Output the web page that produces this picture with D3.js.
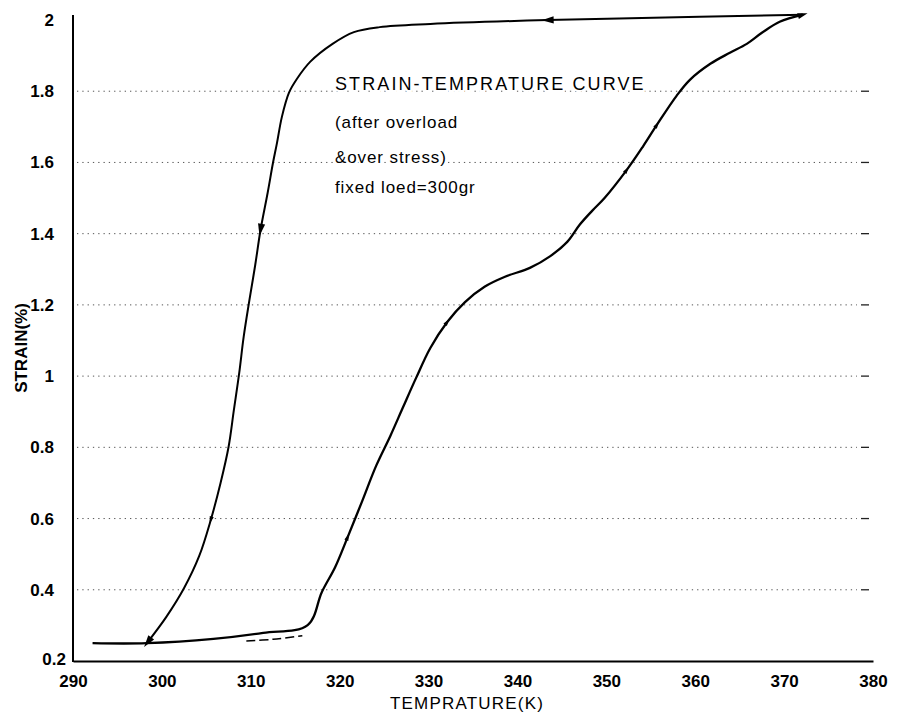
<!DOCTYPE html>
<html>
<head>
<meta charset="utf-8">
<script src="https://d3js.org/d3.v7.min.js"></script>
<style>
  body { margin: 0; background: #fff; }
  .note { font-family: "Liberation Sans", Arial, sans-serif; fill: #000; }
</style>
</head>
<body>
<div id="my_dataviz"></div>
<script>
// Chart size
const width = 898;
const height = 713;

// Heating branch (bottom -> right curve -> top right corner)
const heatTemp = [292.2, 298.3, 305.8, 311.4, 316.4, 318.0, 319.5, 320.9, 322.5, 324.1, 325.7, 327.1, 328.6, 330.2,
    332.1, 334.1, 336.3, 338.6, 341.4, 343.7, 345.6, 347.0, 348.4, 349.8, 352.3, 354.1, 355.7, 357.9, 359.4, 361.7,
    363.9, 365.8, 367.5, 369.5, 372.1];
const heatStrain = [0.25, 0.25, 0.262, 0.279, 0.301, 0.394, 0.464, 0.548, 0.647, 0.748, 0.832, 0.911, 0.995, 1.079,
    1.152, 1.208, 1.251, 1.279, 1.304, 1.337, 1.377, 1.425, 1.464, 1.50, 1.579, 1.644, 1.706, 1.787, 1.832, 1.877,
    1.908, 1.933, 1.964, 1.995, 2.015];

// Cooling branch (top right corner -> top line -> left curve)
const coolTemp = [372.1, 360.5, 343.4, 330.2, 324.5, 321.6, 319.2, 316.7, 315.2, 314.3, 313.5, 312.95, 312.5, 311.9,
    311.1, 310.5, 309.85, 309.2, 308.7, 308.1, 307.5, 306.6, 305.5, 304.2, 302.5, 300.5, 298.4];
const coolStrain = [2.015, 2.009, 2.0, 1.989, 1.98, 1.966, 1.933, 1.883, 1.835, 1.796, 1.728, 1.655, 1.599, 1.515,
    1.411, 1.312, 1.214, 1.110, 1.009, 0.905, 0.801, 0.700, 0.596, 0.495, 0.405, 0.324, 0.253];

// Faint dashed trace under the bottom of the loop
const dashTemp = [309.5, 312.5, 315.8];
const dashStrain = [0.256, 0.261, 0.271];

// Where the direction arrows sit (index into each branch)
const heatArrows = [7, 14, 24, 26, 34];
const coolArrows = [2, 14, 22, 26];

// Axis ticks
const xTicks = [290, 300, 310, 320, 330, 340, 350, 360, 370, 380];
const yTicks = [0.2, 0.4, 0.6, 0.8, 1, 1.2, 1.4, 1.6, 1.8, 2];
const gridTicks = [0.4, 0.6, 0.8, 1, 1.2, 1.4, 1.6, 1.8];

// Note text
const noteTitle = "STRAIN-TEMPRATURE CURVE";
const noteLines = ["(after overload", "&over stress)", "fixed loed=300gr"];

const svg = d3.select("#my_dataviz")
    .append("svg")
    .attr("width", width)
    .attr("height", height);

// Scales
const x = d3.scaleLinear().domain([290, 380]).range([73, 873]);
const y = d3.scaleLinear().domain([0.2, 2]).range([661, 20]);

// Dotted grid lines
svg.append("g")
    .selectAll("line")
    .data(gridTicks)
    .join("line")
    .attr("x1", x(290) + 4)
    .attr("x2", x(380) - 16)
    .attr("y1", d => y(d))
    .attr("y2", d => y(d))
    .attr("stroke", "#555")
    .attr("stroke-width", 1)
    .attr("stroke-dasharray", "1.3,4");

// Short marks at the right end of each grid line
svg.append("g")
    .selectAll("line")
    .data(gridTicks)
    .join("line")
    .attr("x1", x(380) - 12)
    .attr("x2", x(380) - 4)
    .attr("y1", d => y(d))
    .attr("y2", d => y(d))
    .attr("stroke", "#222")
    .attr("stroke-width", 1.3);

// Axes
const xAxis = svg.append("g")
    .attr("transform", `translate(0, ${y(0.2)})`)
    .call(d3.axisBottom(x).tickValues(xTicks).tickSize(0).tickPadding(14).tickFormat(d3.format("d")));
xAxis.select(".domain").attr("stroke", "#000").attr("stroke-width", 2);

const yAxis = svg.append("g")
    .attr("transform", `translate(${x(290)}, 0)`)
    .call(d3.axisLeft(y).tickValues(yTicks).tickSize(0).tickPadding(19).tickFormat(d => d3.format("")(d)));
yAxis.select(".domain").remove();
svg.append("line")
    .attr("x1", x(290)).attr("x2", x(290))
    .attr("y1", y(2) - 5).attr("y2", y(0.2) + 1)
    .attr("stroke", "#000").attr("stroke-width", 2);

svg.selectAll(".tick text")
    .style("font-family", "'Liberation Sans', Arial, sans-serif")
    .style("font-weight", "bold")
    .style("font-size", "17px")
    .attr("fill", "#000");

// the bottom y label sits tucked into the corner, above "290"
yAxis.selectAll(".tick text")
    .filter(d => d === 0.2)
    .attr("dx", 12)
    .attr("dy", "0.2em");

// Axis titles
svg.append("text")
    .attr("class", "note")
    .attr("x", 467)
    .attr("y", 709)
    .attr("text-anchor", "middle")
    .attr("font-size", 17)
    .attr("letter-spacing", 1.2)
    .text("TEMPRATURE(K)");

svg.append("text")
    .attr("class", "note")
    .attr("transform", "translate(27, 348) rotate(-90)")
    .attr("text-anchor", "middle")
    .attr("font-size", 17)
    .attr("font-weight", "bold")
    .text("STRAIN(%)");

// Curves
const line = d3.line()
    .x(d => x(d[0]))
    .y(d => y(d[1]))
    .curve(d3.curveCatmullRom.alpha(0.5));

const heat = heatTemp.map((t, i) => [t, heatStrain[i]]);
const cool = coolTemp.map((t, i) => [t, coolStrain[i]]);
const dash = dashTemp.map((t, i) => [t, dashStrain[i]]);

svg.append("path")
    .datum(heat)
    .attr("d", line)
    .attr("fill", "none")
    .attr("stroke", "#000")
    .attr("stroke-width", 2.3);

svg.append("path")
    .datum(cool)
    .attr("d", line)
    .attr("fill", "none")
    .attr("stroke", "#000")
    .attr("stroke-width", 2);

svg.append("path")
    .datum(dash)
    .attr("d", line)
    .attr("fill", "none")
    .attr("stroke", "#000")
    .attr("stroke-width", 1.5)
    .attr("stroke-dasharray", "9,4");

// Direction arrows along the loop
function arrowAt(points, i, size) {
    const a = points[Math.max(i - 1, 0)];
    const b = points[Math.min(i + 1, points.length - 1)];
    const ang = Math.atan2(y(b[1]) - y(a[1]), x(b[0]) - x(a[0])) * 180 / Math.PI;
    svg.append("path")
        .attr("d", `M${size},0 L${-size},${-size * 0.6} L${-size},${size * 0.6} Z`)
        .attr("transform", `translate(${x(points[i][0])}, ${y(points[i][1])}) rotate(${ang})`)
        .attr("fill", "#000");
}
heatArrows.forEach(i => arrowAt(heat, i, i === 34 ? 5 : 3.5));
coolArrows.forEach(i => arrowAt(cool, i, (i === 2 || i === 14 || i === 26) ? 6 : 3.5));

// Note text block
svg.append("text")
    .attr("class", "note")
    .attr("x", 335)
    .attr("y", 90)
    .attr("font-size", 18)
    .attr("letter-spacing", 2.1)
    .style("paint-order", "stroke")
    .attr("stroke", "#fff")
    .attr("stroke-width", 4)
    .text(noteTitle);

svg.append("g")
    .selectAll("text")
    .data(noteLines)
    .join("text")
    .attr("class", "note")
    .attr("x", 335)
    .attr("y", (d, i) => [128, 163, 193][i])
    .attr("font-size", 17)
    .attr("letter-spacing", 0.9)
    .style("paint-order", "stroke")
    .attr("stroke", "#fff")
    .attr("stroke-width", 4)
    .text(d => d);
</script>
</body>
</html>
